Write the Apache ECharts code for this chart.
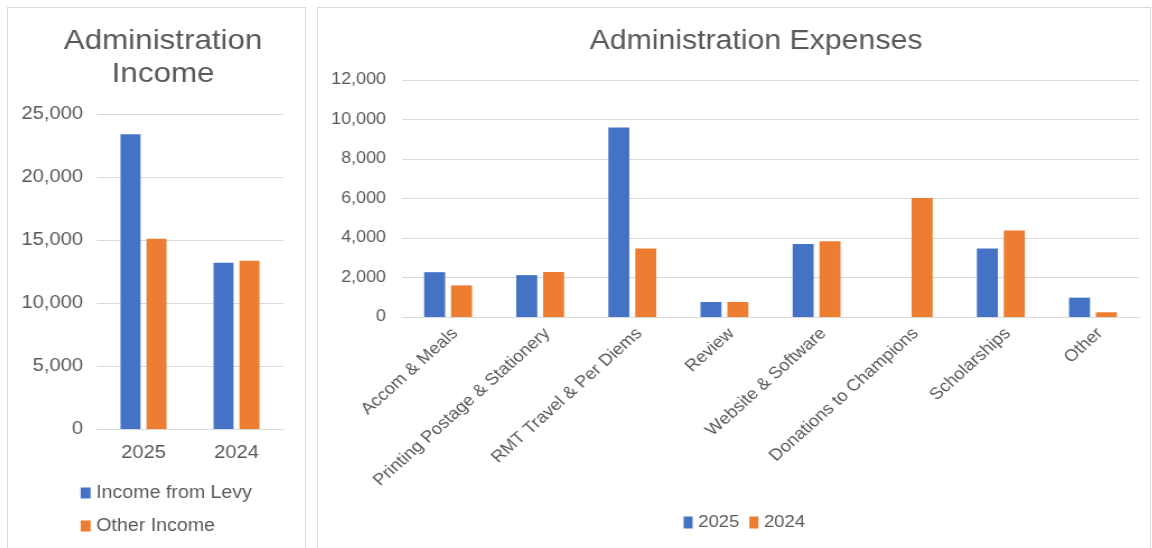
<!DOCTYPE html>
<html><head><meta charset="utf-8">
<script src="https://cdn.jsdelivr.net/npm/echarts@6/dist/echarts.min.js"></script>
<style>
html,body{margin:0;padding:0;background:#fff;width:1152px;height:548px;overflow:hidden}
.panel{position:absolute;border:1px solid #d9d9d9;box-sizing:border-box;overflow:hidden}
#p1{left:7px;top:7px;width:299px;height:560px}
#p2{left:317px;top:7px;width:834px;height:560px}
.inner{position:absolute;left:0;top:0;height:560px;transform-origin:0 0}
</style></head><body>
<div class="panel" id="p1"><div class="inner" id="c1"></div></div>
<div class="panel" id="p2"><div class="inner" id="c2"></div></div>
<script>
// Income chart data
const incomeYears = ['2025', '2024'];
const incomeLevy = [23400, 13200];
const incomeOther = [15100, 13350];
const incomeTicks = [0, 5000, 10000, 15000, 20000, 25000];

// Expenses chart data
const expenseCategories = ['Accom & Meals', 'Printing Postage & Stationery', 'RMT Travel & Per Diems', 'Review', 'Website & Software', 'Donations to Champions', 'Scholarships', 'Other'];
const expenses2025 = [2270, 2120, 9600, 760, 3700, 0, 3470, 980];
const expenses2024 = [1600, 2280, 3470, 760, 3840, 6020, 4380, 240];
const expenseTicks = [0, 2000, 4000, 6000, 8000, 10000, 12000];

const BLUE = '#4472c4', ORANGE = '#ed7d31', TXT = '#595959', GRID = '#d9d9d9';
const FONT = '"Liberation Sans", Arial, sans-serif';
const fmt = v => v.toLocaleString('en-US');
// the reference is horizontally stretched; draw narrower and stretch with CSS
const S = 1.12;
const X = v => v / S;

function setup(id, w) {
  const el = document.getElementById(id);
  el.style.width = (w / S) + 'px';
  el.style.transform = 'scaleX(' + S + ')';
  return echarts.init(el);
}

const c1 = setup('c1', 299);
c1.setOption({
  animation: false,
  textStyle: {fontFamily: FONT},
  title: {text: 'Administration\nIncome', left: X(149.5), top: 12, textAlign: 'center',
    textStyle: {color: TXT, fontSize: 28, fontWeight: 'normal', fontFamily: FONT, lineHeight: 33}},
  legend: {orient: 'vertical', left: X(67), top: 471, itemWidth: X(10), itemHeight: 11, itemGap: 15,
    icon: 'rect', textStyle: {color: TXT, fontSize: 17.5, fontFamily: FONT},
    data: ['Income from Levy', 'Other Income']},
  grid: {left: X(89), top: 106, width: X(186), height: 315, containLabel: false},
  xAxis: {type: 'category', data: incomeYears,
    axisLine: {lineStyle: {color: GRID}}, axisTick: {show: false},
    axisLabel: {color: TXT, fontSize: 18, margin: 15, fontFamily: FONT}},
  yAxis: {type: 'value', min: incomeTicks[0], max: incomeTicks[incomeTicks.length-1], interval: 5000,
    axisLine: {show: false}, axisTick: {show: false},
    splitLine: {lineStyle: {color: GRID}},
    axisLabel: {color: TXT, fontSize: 18, margin: X(14), formatter: fmt, fontFamily: FONT}},
  series: [
    {name: 'Income from Levy', type: 'bar', data: incomeLevy, barWidth: X(20), barGap: '30%',
      itemStyle: {color: BLUE}},
    {name: 'Other Income', type: 'bar', data: incomeOther, barWidth: X(20),
      itemStyle: {color: ORANGE}}
  ]
});

const c2 = setup('c2', 834);
c2.setOption({
  animation: false,
  textStyle: {fontFamily: FONT},
  title: {text: 'Administration Expenses', left: X(266), top: 15,
    textStyle: {color: TXT, fontSize: 27, fontWeight: 'normal', fontFamily: FONT}},
  legend: {left: X(360), top: 501, itemWidth: X(9), itemHeight: 12, itemGap: X(10), icon: 'rect',
    textStyle: {color: TXT, fontSize: 16.5, fontFamily: FONT},
    data: ['2025', '2024']},
  grid: [
    {left: X(84), top: 72, width: X(737), height: 237, containLabel: false},
    // label-only grid, nudged right so rotated labels sit like the reference
    {left: X(91), top: 72, width: X(737), height: 237, containLabel: false}
  ],
  xAxis: [
    {type: 'category', data: expenseCategories, gridIndex: 0,
      axisLine: {lineStyle: {color: GRID}}, axisTick: {show: false}, axisLabel: {show: false}},
    {type: 'category', data: expenseCategories, gridIndex: 1,
      axisLine: {show: false}, axisTick: {show: false},
      axisLabel: {color: TXT, fontSize: 16.5, rotate: 45, margin: 14, interval: 0, fontFamily: FONT}}
  ],
  yAxis: [
    {type: 'value', gridIndex: 0, min: expenseTicks[0], max: expenseTicks[expenseTicks.length-1], interval: 2000,
      axisLine: {show: false}, axisTick: {show: false},
      splitLine: {lineStyle: {color: GRID}},
      axisLabel: {color: TXT, fontSize: 16, margin: X(16), formatter: fmt, fontFamily: FONT}},
    {type: 'value', gridIndex: 1, min: expenseTicks[0], max: expenseTicks[expenseTicks.length-1], show: false}
  ],
  series: [
    {name: '2025', type: 'bar', data: expenses2025, barWidth: X(21), barGap: '28%',
      itemStyle: {color: BLUE}},
    {name: '2024', type: 'bar', data: expenses2024, barWidth: X(21),
      itemStyle: {color: ORANGE}}
  ]
});
</script>
</body></html>
